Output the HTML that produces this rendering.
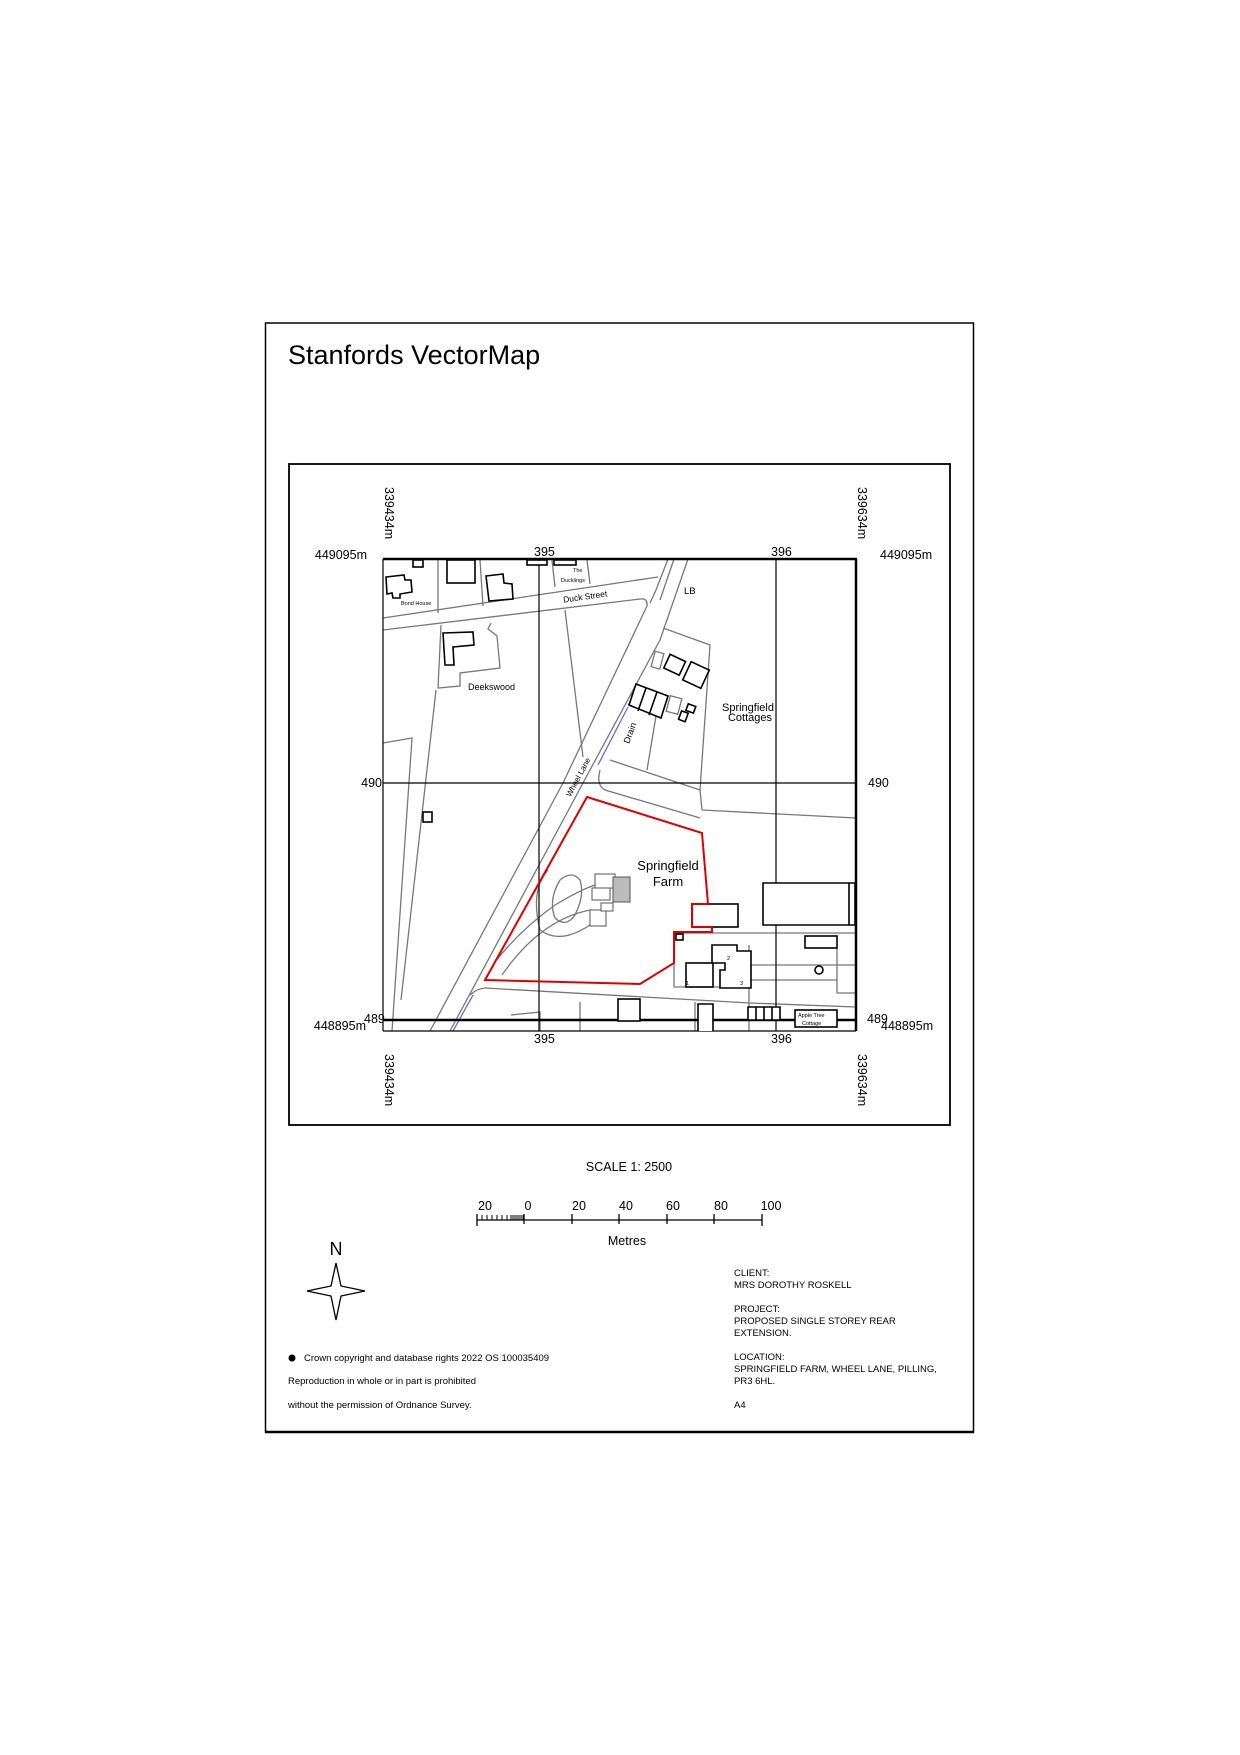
<!DOCTYPE html>
<html><head><meta charset="utf-8"><style>
html,body{margin:0;padding:0;background:#fff}
svg{display:block}
text{font-family:"Liberation Sans",Arial,sans-serif;fill:#000}
</style></head><body>
<svg width="1240" height="1755" viewBox="0 0 1240 1755" xmlns="http://www.w3.org/2000/svg">
<rect x="265.5" y="323" width="708" height="1109" fill="none" stroke="#000" stroke-width="1.5"/>
<line x1="265" y1="1432" x2="974" y2="1432" stroke="#000" stroke-width="2.5"/>
<text x="288" y="364" font-size="27">Stanfords VectorMap</text>
<rect x="289" y="464" width="661" height="661" fill="none" stroke="#000" stroke-width="1.8"/>

<g fill="none" stroke="#777" stroke-width="1.3">
<path d="M383 618 L658 577"/>
<path d="M383 630 L640 599 Q648 598 647 606 L563 783 L430 1031"/>
<path d="M668 559 L656 590 L650 603"/>
<path d="M688 559 L660 640 L583 783 L450 1031"/>
<path d="M674 559 L660 600"/>
<path d="M438 560 L438 613"/><path d="M480 560 L483 606"/><path d="M552 560 L555 587"/><path d="M587 560 L590 584"/>
<path d="M441 625 L438 688 L460 686 L460 673 L500 668 L497 636 L488 629 L491 623"/>
<path d="M565 610 L583 757"/>
<path d="M383 743 L412 738 L392 1031"/>
<path d="M436 690 L401 1000"/>
<path d="M663 628 L710 645 L700 790 L702 810"/>
<path d="M640 686 Q630 690 632 700 L628 705"/>
<path d="M657 710 L647 770"/>
<path d="M610 760 L700 790"/>
<path d="M600 770 Q596 785 605 790 L700 818"/>
<path d="M702 810 L856 818"/>
<path d="M495 962 Q520 930 555 905 Q580 890 595 885"/>
<path d="M502 975 Q540 920 590 910"/>
<path d="M560 880 Q548 900 555 918 Q566 928 575 915 Q585 895 580 880 Q572 870 560 880Z"/>
<path d="M548 870 Q530 890 540 930 Q560 945 590 925"/>
<path d="M485 988 L750 1003 L856 1007"/>
<path d="M470 995 Q478 988 486 988"/>
<path d="M674 933 L856 933"/><path d="M751 965 L856 965"/><path d="M751 980 L837 980"/>
<path d="M837 948 L837 993 L856 993"/><path d="M749 945 L749 1031"/>
<path d="M674 963 L674 987 L749 987"/>
<path d="M580 1002 L580 1031"/><path d="M511 1015 L540 1012 L540 1031"/><path d="M695 1002 L695 1031"/>
<rect x="653" y="652" width="9" height="16" transform="rotate(15 657 660)"/>
<rect x="668" y="697" width="12" height="16" transform="rotate(15 674 705)"/>
</g>
<g fill="none" stroke="#6a6ad8" stroke-width="1.3">
<path d="M628 707 L598 765"/><path d="M473 995 L453 1031"/>
</g>
<g stroke="#000" stroke-width="1.2" fill="none">
<line x1="539" y1="559" x2="539" y2="1031"/>
<line x1="776" y1="559" x2="776" y2="1031"/>
<line x1="383" y1="783" x2="856" y2="783"/>
<line x1="383" y1="559" x2="383" y2="1031"/>
<line x1="383" y1="1031" x2="856" y2="1031"/>
</g>
<line x1="383" y1="559" x2="857" y2="559" stroke="#000" stroke-width="2.5"/>
<line x1="856" y1="559" x2="856" y2="1031" stroke="#000" stroke-width="2.5"/>
<line x1="383" y1="1020" x2="857" y2="1020" stroke="#000" stroke-width="2.5"/>

<g fill="#fff" stroke="#000" stroke-width="1.6">
<rect x="413" y="560" width="10" height="7"/>
<rect x="447" y="560" width="28" height="23"/>
<path d="M386 577 L404 575 L405 580 L411 580 L412 592 L400 594 L400 598 L393 598 L392 593 L387 594Z"/>
<path d="M486 576 L503 574 L504 583 L512 584 L513 599 L489 601Z"/>
<rect x="527" y="560" width="20" height="5"/>
<rect x="554" y="560" width="22" height="5"/>
<path d="M443 633 L473 632 L474 645 L453 647 L454 665 L445 665Z"/>
<rect x="666" y="657" width="17" height="15" transform="rotate(25 674 665)"/>
<rect x="686" y="665" width="20" height="20" transform="rotate(25 696 675)"/>
<path d="M636 684 L668 696 L661 718 L629 705Z"/>
<path d="M646 688 L638 711 M657 692 L649 715" />
<rect x="687" y="705" width="8" height="7" transform="rotate(20 691 708)"/>
<rect x="680" y="712" width="7" height="9" transform="rotate(20 684 716)"/>
<rect x="423" y="812" width="9" height="10"/>
<rect x="692" y="904" width="46" height="23"/>
<path d="M763 883 L855 883 L855 925 L763 925Z M849 883 L849 925"/>
<rect x="805" y="936" width="32" height="12"/>
<circle cx="819" cy="970" r="4"/>
<rect x="686" y="963" width="27" height="24"/>
<path d="M712 945 L737 945 L737 951 L751 951 L751 988 L720 988 L720 970 L725 970 L725 963 L712 963Z"/>
<rect x="676" y="934" width="7" height="6"/>
<rect x="618" y="999" width="22" height="22"/>
<path d="M698 1031 L698 1004 L713 1004 L713 1031"/>
<path d="M748 1007 L780 1007 L780 1020 L748 1020Z M756 1007 L756 1020 M764 1007 L764 1020 M772 1007 L772 1020"/>
<rect x="795" y="1010" width="42" height="17"/>
</g>
<g fill="#fff" stroke="#555" stroke-width="1">
<rect x="595" y="874" width="20" height="14"/>
<rect x="592" y="888" width="18" height="12"/>
<rect x="590" y="910" width="16" height="16"/>
<rect x="601" y="903" width="12" height="8"/>
</g>
<rect x="613" y="877" width="17" height="25" fill="#bbb" stroke="#555" stroke-width="1"/>
<path d="M587 797 L702 833 L708 904 L692 904 L692 927 L712 927 L712 932 L674 932 L674 963 L640 984 L485 980 L495 962 Z" fill="none" stroke="#d00" stroke-width="2"/>

<g font-size="5.5" fill="#333"><text x="573" y="572">The</text><text x="561" y="582">Ducklings</text><text x="401" y="605">Bond House</text></g>
<text x="563" y="600" font-size="8.5" transform="rotate(-8 582 597)">Duck Street</text>
<text x="684" y="594" font-size="9.5">LB</text>
<text x="468" y="690" font-size="9">Deekswood</text>
<text x="748" y="711" font-size="11" text-anchor="middle">Springfield</text>
<text x="750" y="721" font-size="11" text-anchor="middle">Cottages</text>
<text x="630" y="736" font-size="9" text-anchor="middle" transform="rotate(-70 630 733)">Drain</text>
<text x="578" y="780" font-size="8" text-anchor="middle" transform="rotate(-62 578 777)">Wheel Lane</text>
<text x="668" y="870" font-size="13" text-anchor="middle">Springfield</text>
<text x="668" y="886" font-size="13" text-anchor="middle">Farm</text>
<g font-size="5.5"><text x="686" y="985">1</text><text x="727" y="960">2</text><text x="740" y="985">3</text><text x="798" y="1017">Apple Tree</text><text x="802" y="1025">Cottage</text></g>

<g font-size="12.5">
<text x="534" y="556">395</text><text x="771" y="556">396</text>
<text x="534" y="1043">395</text><text x="771" y="1043">396</text>
<text x="367" y="559" text-anchor="end">449095m</text>
<text x="880" y="559">449095m</text>
<text x="382" y="787" text-anchor="end">490</text>
<text x="868" y="787">490</text>
<text x="366" y="1030" text-anchor="end">448895m</text>
<text x="364" y="1023">489</text>
<text x="867" y="1023">489</text>
<text x="881" y="1030">448895m</text>
<text transform="translate(385 487) rotate(90)">339434m</text>
<text transform="translate(858 487) rotate(90)">339634m</text>
<text transform="translate(385 1054) rotate(90)">339434m</text>
<text transform="translate(858 1054) rotate(90)">339634m</text>
</g>

<text x="629" y="1171" font-size="12.5" text-anchor="middle">SCALE  1: 2500</text>
<g font-size="12.5" text-anchor="middle">
<text x="485" y="1210">20</text><text x="528" y="1210">0</text><text x="579" y="1210">20</text><text x="626" y="1210">40</text><text x="673" y="1210">60</text><text x="721" y="1210">80</text><text x="771" y="1210">100</text>
<text x="627" y="1245">Metres</text>
</g>
<g stroke="#000" stroke-width="1.3">
<line x1="477" y1="1220" x2="762" y2="1220"/>
<line x1="477" y1="1214" x2="477" y2="1226"/><line x1="524" y1="1214" x2="524" y2="1224"/>
<line x1="572" y1="1214" x2="572" y2="1224"/><line x1="619" y1="1214" x2="619" y2="1224"/>
<line x1="667" y1="1214" x2="667" y2="1224"/><line x1="714" y1="1214" x2="714" y2="1224"/>
<line x1="762" y1="1214" x2="762" y2="1226"/>
<path d="M482 1215v5 M487 1215v5 M492 1215v5 M497 1215v5 M502 1215v5 M507 1215v5 M511 1215v5 M513 1215v5 M515 1215v5 M517 1215v5 M519 1215v5 M521 1215v5 M523 1215v5" stroke-width="1"/>
</g>
<text x="336" y="1255" font-size="18" text-anchor="middle">N</text>
<path d="M336 1263 L341 1286 L365 1291 L341 1296 L336 1320 L331 1296 L307 1291 L331 1286 Z" fill="#fff" stroke="#000" stroke-width="1.3"/>

<circle cx="292" cy="1358" r="3.5" fill="#000"/>
<g font-size="9.5">
<text x="304" y="1361">Crown copyright and database rights 2022 OS 100035409</text>
<text x="288" y="1384">Reproduction in whole or in part is prohibited</text>
<text x="288" y="1408">without the permission of Ordnance Survey.</text>
<text x="734" y="1276">CLIENT:</text>
<text x="734" y="1288">MRS DOROTHY ROSKELL</text>
<text x="734" y="1312">PROJECT:</text>
<text x="734" y="1324">PROPOSED SINGLE STOREY REAR</text>
<text x="734" y="1336">EXTENSION.</text>
<text x="734" y="1360">LOCATION:</text>
<text x="734" y="1372">SPRINGFIELD FARM, WHEEL LANE, PILLING,</text>
<text x="734" y="1384">PR3 6HL.</text>
<text x="734" y="1408">A4</text>
</g>
</svg>
</body></html>
